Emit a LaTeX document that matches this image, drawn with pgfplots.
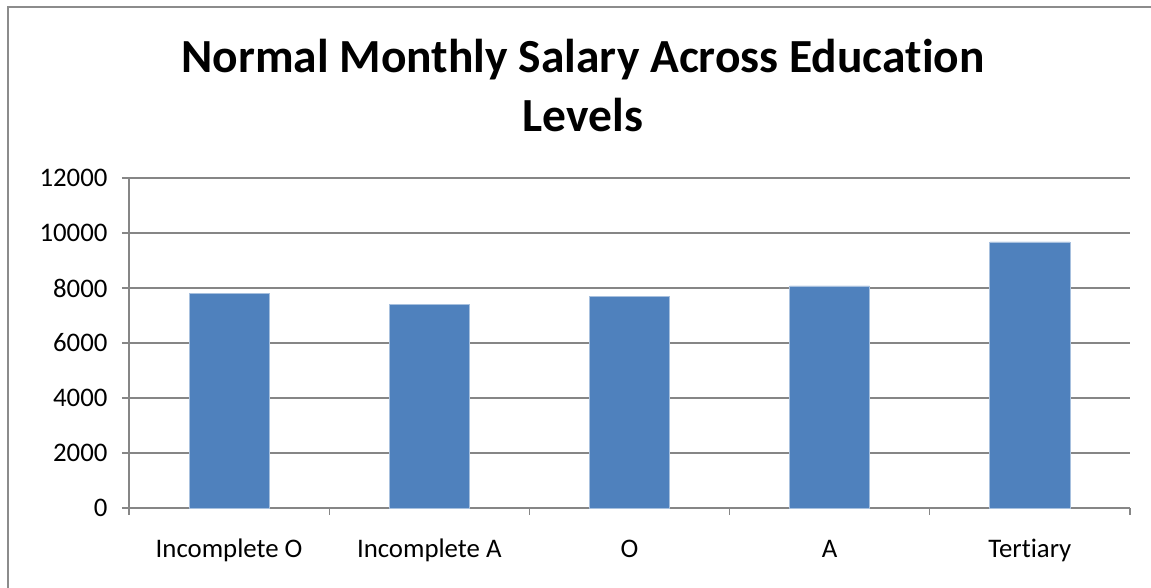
\documentclass[border=0pt]{standalone}
\usepackage{fontspec}
\setmainfont{Carlito}[Ligatures={NoCommon}]
\usepackage{pgfplots}
\pgfplotsset{compat=1.18}
\definecolor{barblue}{HTML}{4F81BD}
\definecolor{baredge}{HTML}{A7C0DE}
\definecolor{gridgray}{HTML}{868686}
\definecolor{bordergray}{HTML}{8C8C8C}
\begin{document}
\begin{tikzpicture}
\path[use as bounding box] (0pt,0pt) rectangle (1151pt,588pt);
\draw[bordergray, line width=2pt] (8pt,0pt) -- (8pt,581pt) -- (1151pt,581pt);
\node[font=\fontsize{47.5}{59}\selectfont\bfseries, align=center, anchor=base] at (583pt,456pt) {Normal Monthly Salary Across Education\\Levels};
\begin{axis}[
  at={(129pt,80pt)}, anchor=south west,
  scale only axis, width=1001pt, height=330pt,
  xmin=-0.5, xmax=4.5, ymin=0, ymax=12000,
  scaled y ticks=false,
  axis x line*=bottom, axis y line*=left,
  axis line style={gridgray, line width=1.3pt, -},
  xtick={0,1,2,3,4},
  xticklabels={\strut Incomplete O, \strut Incomplete A, \strut O, \strut A, \strut Tertiary},
  minor xtick={-0.5,0.5,1.5,2.5,3.5,4.5},
  ytick={0,2000,4000,6000,8000,10000,12000},
  ymajorgrids,
  grid style={gridgray, line width=1.3pt},
  tick align=outside,
  major tick length=7pt, minor tick length=7pt,
  x tick style={draw=none},
  minor x tick style={draw=gridgray, line width=1.3pt},
  y tick style={draw=gridgray, line width=1.3pt},
  tick label style={font=\fontsize{26.8}{30}\selectfont},
  /pgf/number format/assume math mode=true,
  yticklabel style={/pgf/number format/set thousands separator={}, xshift=-11pt},
  xticklabel style={yshift=-18pt},
  clip=false,
]
\addplot[ybar, bar width=0.4, fill=barblue, draw=baredge, line width=0.8pt]
  coordinates {(0,7807) (1,7407) (2,7684) (3,8073) (4,9673)};
\end{axis}
\end{tikzpicture}
\end{document}
